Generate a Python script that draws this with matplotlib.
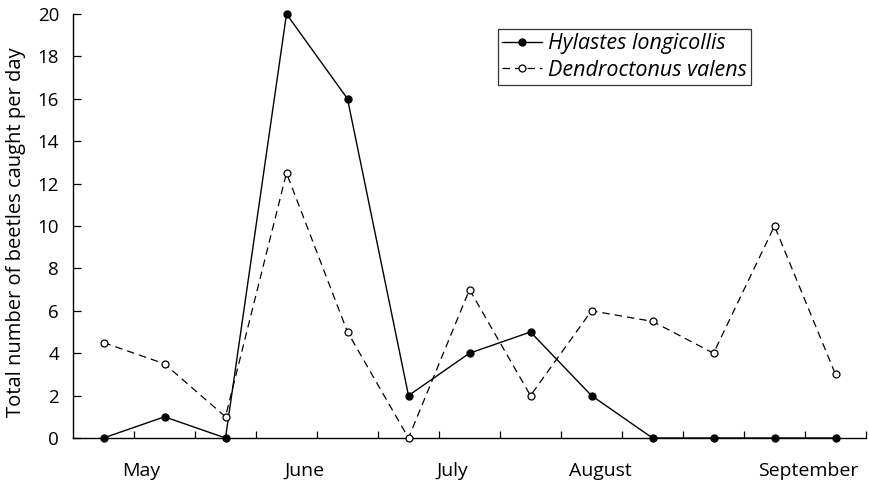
import matplotlib
matplotlib.use("Agg")
import matplotlib.pyplot as plt
import numpy as np

plt.rcParams['font.family'] = ['Open Sans', 'DejaVu Sans']

# Sampling occasions (13 collection periods, May–September)
periods = list(range(13))
hylastes = [0, 1, 0, 20, 16, 2, 4, 5, 2, 0, 0, 0, 0]
dendroctonus = [4.5, 3.5, 1, 12.5, 5, 0, 7, 2, 6, 5.5, 4, 10, 3]

months = ["May", "June", "July", "August", "September"]
month_pos = [0.62, 3.3, 5.72, 8.15, 11.56]

fig = plt.figure(figsize=(8.69, 4.84), dpi=100)
ax = fig.add_axes([73/869, 1-438/484, (866-73)/869, (438-14)/484])

ax.plot(periods, hylastes, color='black', lw=1.0, marker='o', ms=5,
        mfc='black', mec='black', label='Hylastes longicollis', clip_on=False, zorder=3)
ax.plot(periods, dendroctonus, color='black', lw=0.9, ls=(0, (6, 4)), marker='o', ms=5,
        mfc='white', mec='black', mew=0.9, label='Dendroctonus valens', clip_on=False, zorder=3)

ax.set_xlim(-0.5, 12.5)
ax.set_ylim(0, 20)
ax.set_yticks(np.arange(0, 21, 2))
ax.set_xticks(np.arange(0.5, 12.6, 1))
ax.set_xticklabels([])
ax.tick_params(axis='x', direction='in', length=5, width=0.9)
ax.tick_params(axis='y', direction='in', length=6, width=0.9, labelsize=13.5, pad=10)
for s in ['top', 'right']:
    ax.spines[s].set_visible(False)
for s in ['left', 'bottom']:
    ax.spines[s].set_linewidth(1.0)

for m, p in zip(months, month_pos):
    ax.text(p, -1.55, m, ha='center', va='center', fontsize=14,
            transform=ax.transData)

ax.set_ylabel('Total number of beetles caught per day', fontsize=14.5)
ax.yaxis.set_label_coords(-47/793, 0.485)

leg = ax.legend(loc='upper left', bbox_to_anchor=((498-73)/793, 1-(29-14)/424),
                frameon=True, fancybox=False, edgecolor='black',
                prop={'style': 'italic', 'size': 15.5}, handlelength=1.85,
                borderpad=0.2, labelspacing=0.25, handletextpad=0.25, borderaxespad=0)
leg.get_frame().set_linewidth(0.9)

fig.savefig('out.png', dpi=100)
